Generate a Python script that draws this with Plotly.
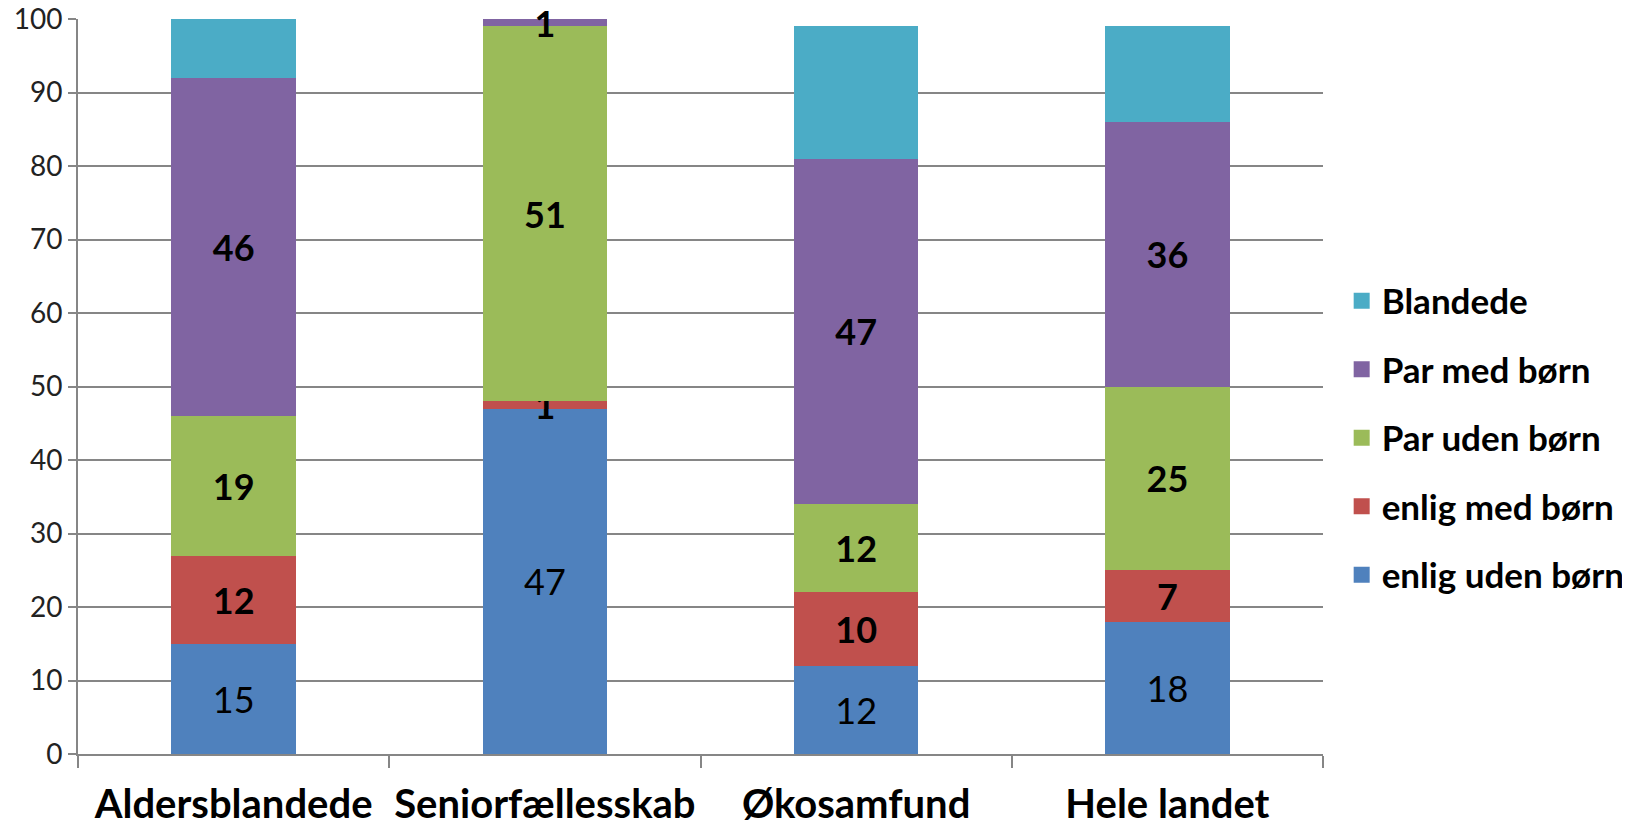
import plotly.graph_objects as go

categories = ["Aldersblandede", "Seniorfællesskab", "Økosamfund", "Hele landet"]
series_names = ["enlig uden børn", "enlig med børn", "Par uden børn", "Par med børn", "Blandede"]
enlig_uden = [15, 47, 12, 18]
enlig_med = [12, 1, 10, 7]
par_uden = [19, 51, 12, 25]
par_med = [46, 1, 47, 36]
blandede = [8, 0, 18, 13]
colors = ["#4F81BD", "#C0504D", "#9BBB59", "#8064A2", "#4BACC6"]
y_ticks = list(range(0, 101, 10))

FONT = "Lato"
series = [enlig_uden, enlig_med, par_uden, par_med, blandede]
label_style = ["normal", "bold", "bold", "bold", None]

fig = go.Figure()
for name, vals, col, style in zip(series_names, series, colors, label_style):
    if style is None:
        text = ["" for v in vals]
    elif style == "bold":
        text = [f"<b>{v}</b>" for v in vals]
    else:
        text = [str(v) for v in vals]
    fig.add_trace(go.Bar(
        x=categories, y=vals, name=name, marker_color=col,
        marker_line_width=0, showlegend=False,
        text=text, textposition="inside", insidetextanchor="middle",
        textangle=0, constraintext="none",
        textfont=dict(family=FONT, size=36, color="black"),
        cliponaxis=False, hoverinfo="x+y+name",
    ))

# legend entries (larger square symbols), top entry = last series
for name, col in reversed(list(zip(series_names, colors))):
    fig.add_trace(go.Scatter(
        x=[categories[0]], y=[None], mode="markers", name=name,
        marker=dict(symbol="square", size=22, color=col),
        legendgroup=name, showlegend=True, hoverinfo="skip",
    ))

fig.update_layout(
    barmode="stack", bargap=0.6,
    width=1630, height=826,
    margin=dict(l=70, r=315, t=11, b=80, autoexpand=False),
    plot_bgcolor="white", paper_bgcolor="white",
    font=dict(family=FONT, color="black"),
    legend=dict(x=1.015, xanchor="left", y=0.43, yanchor="middle",
                traceorder="grouped", tracegroupgap=20,
                font=dict(family=FONT, size=35, weight="bold", color="black")),
)
fig.update_yaxes(range=[0, 100], tickvals=y_ticks, showgrid=True, gridcolor="#868686", gridwidth=2,
                 showline=True, linecolor="#868686", linewidth=2, ticks="outside", ticklen=8,
                 tickcolor="#868686", tickwidth=2, automargin=False, ticklabeloverflow="allow",
                 tickfont=dict(family=FONT, size=28, color="#222222"), zeroline=False)
fig.update_xaxes(showline=True, linecolor="#868686", linewidth=2, ticks="outside", ticklen=12,
                 tickcolor="#868686", tickwidth=2, tickson="boundaries", automargin=False,
                 ticklabelstandoff=14, tickangle=0,
                 tickfont=dict(family=FONT, size=40, weight="bold", color="black"))

fig.write_html("out.html")
